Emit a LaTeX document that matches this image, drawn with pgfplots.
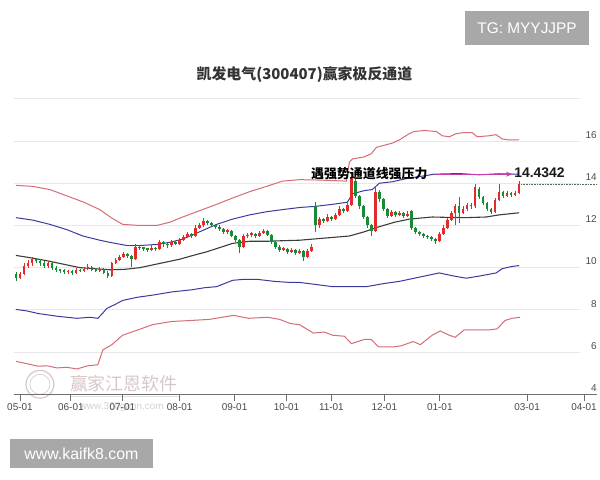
\documentclass[border=0pt]{standalone}
\usepackage{pgfplots}
\pgfplotsset{compat=1.18}
\usepackage{pgfplotstable}
\usepackage{fontspec}
\setmainfont{Liberation Sans}
\newfontfamily\cjk{Noto Sans CJK SC}
\usetikzlibrary{arrows.meta}

\definecolor{cred}{RGB}{226,44,44}
\definecolor{cgreen}{RGB}{22,140,52}
\definecolor{bandred}{RGB}{214,108,118}
\definecolor{bandblue}{RGB}{58,58,160}
\definecolor{midline}{RGB}{60,60,60}
\definecolor{gridc}{RGB}{232,232,232}
\definecolor{axisc}{RGB}{110,110,110}
\definecolor{tickc}{RGB}{75,75,75}
\definecolor{boxc}{RGB}{168,168,168}
\definecolor{arrowc}{RGB}{200,60,170}
\definecolor{closec}{RGB}{80,110,85}
\definecolor{wmark}{RGB}{215,200,200}

% up candles: x open high low close
\pgfplotstableread{
x o h l c
20 9.5 9.8 9.45 9.7
24 9.7 10.2 9.65 10.1
28 10.1 10.35 10.0 10.2
32 10.2 10.5 10.1 10.4
48 10.1 10.3 10.0 10.2
68 9.8 9.9 9.72 9.84
76 9.75 10.0 9.7 9.9
84 9.85 10.05 9.8 9.95
88 9.95 10.15 9.9 10.05
100 9.85 10.05 9.8 9.95
112 9.6 10.25 9.55 10.2
116 10.2 10.45 10.15 10.35
120 10.35 10.6 10.3 10.5
124 10.5 10.75 10.45 10.65
136 10.4 11.1 10.35 11.0
152 10.85 11.05 10.8 10.95
160 10.9 11.3 10.85 11.2
172 11.05 11.3 11.0 11.2
180 11.1 11.4 11.05 11.3
184 11.3 11.55 11.25 11.45
188 11.45 11.7 11.4 11.6
196 11.5 12.0 11.45 11.9
200 11.9 12.1 11.85 12.0
204 12.0 12.35 11.95 12.2
228 11.7 11.85 11.6 11.78
244 11.0 11.6 10.95 11.5
248 11.5 11.65 11.4 11.56
252 11.55 11.7 11.45 11.62
260 11.5 11.75 11.45 11.65
264 11.65 11.85 11.6 11.75
284 10.85 11.0 10.8 10.92
292 10.75 10.95 10.7 10.85
300 10.7 10.9 10.65 10.8
308 10.5 10.9 10.45 10.8
312 10.8 11.1 10.75 11.0
320 12.0 12.4 11.9 12.3
328 12.2 12.55 12.15 12.4
336 12.3 12.6 12.25 12.5
340 12.5 12.9 12.45 12.8
348 12.7 13.05 12.65 12.95
352 12.95 14.55 12.9 14.3
376 11.75 13.85 11.7 13.6
392 12.45 12.75 12.4 12.65
400 12.5 12.7 12.45 12.6
408 12.45 12.7 12.4 12.55
440 11.25 11.7 11.2 11.6
444 11.6 12.0 11.55 11.9
448 11.9 12.35 11.85 12.25
452 12.25 12.7 12.2 12.6
456 12.6 13.0 12.0 12.9
464 12.6 12.9 12.55 12.8
468 12.8 13.05 12.7 12.95
476 12.9 13.95 12.85 13.8
496 12.65 13.3 12.6 13.2
500 13.2 13.95 13.15 13.6
508 13.4 13.65 13.35 13.55
516 13.45 13.65 13.4 13.55
520 13.55 14.1 13.5 13.95
}\up

% down candles: x open high low close
\pgfplotstableread{
x o h l c
16 9.7 9.8 9.35 9.5
36 10.4 10.45 10.2 10.3
40 10.3 10.4 10.1 10.2
44 10.2 10.3 10.0 10.1
52 10.2 10.25 9.9 10.0
56 10.0 10.1 9.8 9.9
60 9.92 9.95 9.75 9.85
64 9.88 9.95 9.7 9.8
72 9.84 9.9 9.65 9.75
80 9.9 9.95 9.78 9.84
92 10.05 10.1 9.85 9.9
96 9.92 10.0 9.8 9.85
104 9.95 10.0 9.7 9.75
108 9.75 9.85 9.5 9.6
128 10.65 10.7 10.45 10.55
132 10.55 10.6 10.05 10.4
140 11.0 11.05 10.85 10.94
144 10.96 11.0 10.8 10.9
148 10.92 10.95 10.75 10.85
156 10.95 11.0 10.8 10.9
164 11.2 11.25 11.0 11.1
168 11.12 11.15 10.95 11.05
176 11.2 11.25 11.05 11.1
192 11.6 11.65 11.4 11.5
208 12.2 12.25 12.0 12.1
212 12.1 12.15 11.95 12.0
216 12.02 12.05 11.85 11.95
220 11.95 12.0 11.75 11.85
224 11.85 11.9 11.6 11.7
232 11.75 11.8 11.45 11.5
236 11.5 11.55 11.2 11.3
240 11.3 11.35 10.7 11.0
256 11.6 11.65 11.4 11.5
268 11.75 11.8 11.5 11.55
272 11.55 11.6 11.1 11.2
276 11.2 11.25 10.9 11.0
280 11.0 11.05 10.75 10.85
288 10.9 10.95 10.65 10.75
296 10.85 10.9 10.6 10.7
304 10.8 10.85 10.3 10.5
316 12.9 13.1 11.7 12.0
324 12.3 12.35 12.1 12.2
332 12.4 12.45 12.2 12.3
344 12.8 12.85 12.6 12.7
356 14.1 14.2 13.3 13.4
360 13.4 13.45 12.8 12.9
364 12.9 12.95 12.3 12.4
368 12.4 12.45 11.9 12.0
372 12.0 12.05 11.5 11.75
380 13.6 13.7 13.1 13.25
384 13.25 13.3 12.7 12.8
388 12.8 12.85 12.35 12.45
396 12.65 12.7 12.4 12.5
404 12.6 12.65 12.35 12.45
412 12.7 12.75 11.8 11.9
416 11.9 11.95 11.6 11.7
420 11.7 11.75 11.5 11.6
424 11.6 11.65 11.4 11.5
428 11.52 11.55 11.35 11.45
432 11.45 11.5 11.25 11.35
436 11.35 11.4 11.1 11.25
460 12.9 13.35 12.1 12.6
472 12.96 13.05 12.8 12.9
480 13.75 13.8 13.25 13.35
484 13.35 13.4 12.95 13.05
488 13.05 13.1 12.7 12.8
492 12.8 12.85 12.55 12.65
504 13.6 13.65 13.3 13.4
512 13.55 13.6 13.35 13.45
}\down

\pgfplotsset{
  candle/.style n args={2}{draw=none, mark=none, forget plot,
    error bars/.cd, y dir=plus, y explicit, error mark=none,
    error bar style={draw=#1, line width=#2}},
}

\begin{document}
\begin{tikzpicture}
\begin{scope}[x=1bp,y=1bp]
\useasboundingbox (0,0) rectangle (600,480);
\fill[white] (0,0) rectangle (600,480);
% title
\node[font=\cjk\bfseries\fontsize{15}{18}\selectfont, text=black!80] at (305,405) {凯发电气(300407)赢家极反通道};
% watermark logo
\draw[wmark, line width=1.2pt] (40,95) circle (14);
\draw[wmark, line width=0.6pt] (40,95) circle (10);
\node[font=\cjk\fontsize{18}{20}\selectfont, text=wmark] at (124,96) {赢家江恩软件};
\draw[gray!25, line width=0.6pt] (70,83) -- (180,83);
\node[font=\fontsize{10}{12}\selectfont, text=gray!35] at (122,72) {www.360gann.com};
\end{scope}

\begin{axis}[
  at={(14bp,85bp)}, anchor=south west,
  scale only axis, width=584bp, height=296bp,
  xmin=14, xmax=598, ymin=4, ymax=18,
  clip=false,
  axis x line=bottom, axis y line=none,
  x axis line style={-, draw=axisc, line width=1.3pt},
  xtick={20,71,122.6,180,235,287,332,385,440.6,528,585},
  xticklabels={05-01,06-01,07-01,08-01,09-01,10-01,11-01,12-01,01-01,03-01,04-01},
  xtick align=outside, major tick length=7bp,
  tick style={draw=axisc, line width=0.8pt},
  xticklabel style={font=\fontsize{10}{12}\selectfont, text=tickc, yshift=1bp},
]
% grid lines and right-hand value labels
\pgfplotsinvokeforeach{6,8,10,12,14,16,18}{
  \draw[gridc, line width=0.8pt] (axis cs:14,#1) -- (axis cs:581,#1);
}
\pgfplotsinvokeforeach{4,6,8,10,12,14,16}{
  \node[anchor=south east, inner sep=0pt, yshift=2.5bp, font=\fontsize{10}{12}\selectfont, text=tickc] at (axis cs:598,#1) {#1};
}

% outer red channel
\addplot[bandred, line width=1pt] coordinates {
(16,13.9) (33,13.85) (50,13.7) (67,13.4) (84,13.1) (100,12.75) (112,12.35) (123,12.05)
(140,12.0) (157,12.0) (170,12.15) (183,12.4) (200,12.7) (217,13.0) (233,13.3) (250,13.6)
(267,13.85) (283,14.1) (300,14.17) (320,14.15) (347,14.1) (350,15.0) (353,15.15) (365,15.25)
(372,15.4) (377,15.7) (393,15.9) (400,16.05) (410,16.35) (415,16.45) (425,16.5) (437,16.45)
(443,16.25) (450,16.2) (457,16.35) (465,16.4) (473,16.4) (478,16.2) (490,16.25) (497,16.3)
(503,16.1) (510,16.05) (520,16.05)
};
\addplot[bandred, line width=1pt] coordinates {
(16,5.56) (27,5.45) (38,5.33) (47,5.35) (57,5.25) (67,5.28) (77,5.2) (88,5.35) (98,5.4)
(103,6.1) (112,6.35) (123,6.8) (135,7.0) (153,7.3) (172,7.45) (192,7.5) (210,7.55) (234,7.74)
(249,7.6) (268,7.65) (280,7.55) (291,7.35) (300,7.3) (314,6.9) (325,6.95) (333,6.8) (345,6.75)
(352,6.4) (365,6.6) (372,6.6) (379,6.25) (395,6.25) (402,6.3) (414,6.5) (421,6.35) (433,6.8)
(441,7.0) (450,6.8) (456,6.7) (465,7.05) (475,7.05) (490,7.05) (498,7.1) (506,7.5) (513,7.6)
(521,7.65)
};
% inner blue channel
\addplot[bandblue, line width=1pt] coordinates {
(16,12.37) (33,12.25) (50,12.05) (67,11.8) (83,11.5) (100,11.3) (110,11.2) (127,11.05)
(140,11.05) (157,11.1) (170,11.2) (183,11.35) (200,11.7) (217,12.05) (233,12.3) (250,12.5)
(267,12.65) (283,12.75) (300,12.85) (315,12.9) (333,13.0) (348,13.1) (353,13.5) (365,13.65)
(373,13.7) (380,14.0) (393,14.07) (410,14.25) (425,14.35) (435,14.43) (460,14.46) (480,14.4)
(500,14.45) (520,14.43)
};
\addplot[bandblue, line width=1pt] coordinates {
(16,8.02) (27,7.95) (38,7.83) (57,7.7) (77,7.6) (90,7.65) (98,7.6) (103,7.85) (107,8.07)
(115,8.25) (123,8.45) (138,8.6) (153,8.7) (172,8.85) (192,8.95) (205,9.05) (217,9.1) (225,9.25)
(233,9.4) (245,9.45) (257,9.45) (275,9.35) (290,9.3) (300,9.3) (317,9.2) (333,9.1) (350,9.1)
(367,9.1) (385,9.25) (400,9.35) (420,9.55) (440,9.75) (455,9.6) (467,9.5) (480,9.6) (497,9.75)
(503,9.95) (512,10.05) (520,10.1)
};
% middle line
\addplot[midline, line width=1.1pt] coordinates {
(16,10.58) (33,10.45) (50,10.3) (65,10.15) (80,10.0) (95,9.95) (110,9.9) (125,9.92) (140,10.0)
(160,10.2) (180,10.4) (195,10.6) (207,10.75) (220,10.95) (233,11.15) (250,11.25) (267,11.25)
(285,11.28) (300,11.3) (325,11.4) (350,11.5) (365,11.7) (377,11.9) (395,12.15) (410,12.3)
(433,12.4) (450,12.38) (467,12.37) (487,12.4) (500,12.5) (520,12.6)
};

% candles: wicks (low to high) and bodies (open to close)
\addplot[candle={cred}{0.7pt}]
  table[x=x, y=l, y error plus expr=\thisrow{h}-\thisrow{l}] {\up};
\addplot[candle={cred}{2.6pt}]
  table[x=x, y=o, y error plus expr=\thisrow{c}-\thisrow{o}] {\up};
\addplot[candle={cgreen}{0.7pt}]
  table[x=x, y=l, y error plus expr=\thisrow{h}-\thisrow{l}] {\down};
\addplot[candle={cgreen}{2.6pt}]
  table[x=x, y=c, y error plus expr=\thisrow{o}-\thisrow{c}] {\down};

% last close line
\addplot[closec, line width=0.6pt, densely dotted] coordinates {(522,13.97) (598,13.97)};

% annotation
\draw[arrowc, line width=1.1pt, -{Stealth[length=6bp,width=5bp]}] (axis cs:436,14.43) -- (axis cs:513,14.43);
\node[font=\cjk\bfseries\fontsize{13}{15}\selectfont, text=black] at (axis cs:370,14.45) {遇强势通道线强压力};
\node[anchor=west, inner sep=1pt, font=\bfseries\fontsize{14}{16}\selectfont, text=black!90] at (axis cs:514,14.5) {14.4342};
\end{axis}

\begin{scope}[x=1bp,y=1bp]
% corner labels
\fill[boxc] (466,435) rectangle (590,469);
\node[font=\fontsize{15.5}{18}\selectfont, text=white] at (528,452) {TG: MYYJJPP};
\fill[boxc] (10,11) rectangle (153,40);
\node[font=\fontsize{16}{19}\selectfont, text=white] at (81.5,25.5) {www.kaifk8.com};
\end{scope}
\end{tikzpicture}
\end{document}
